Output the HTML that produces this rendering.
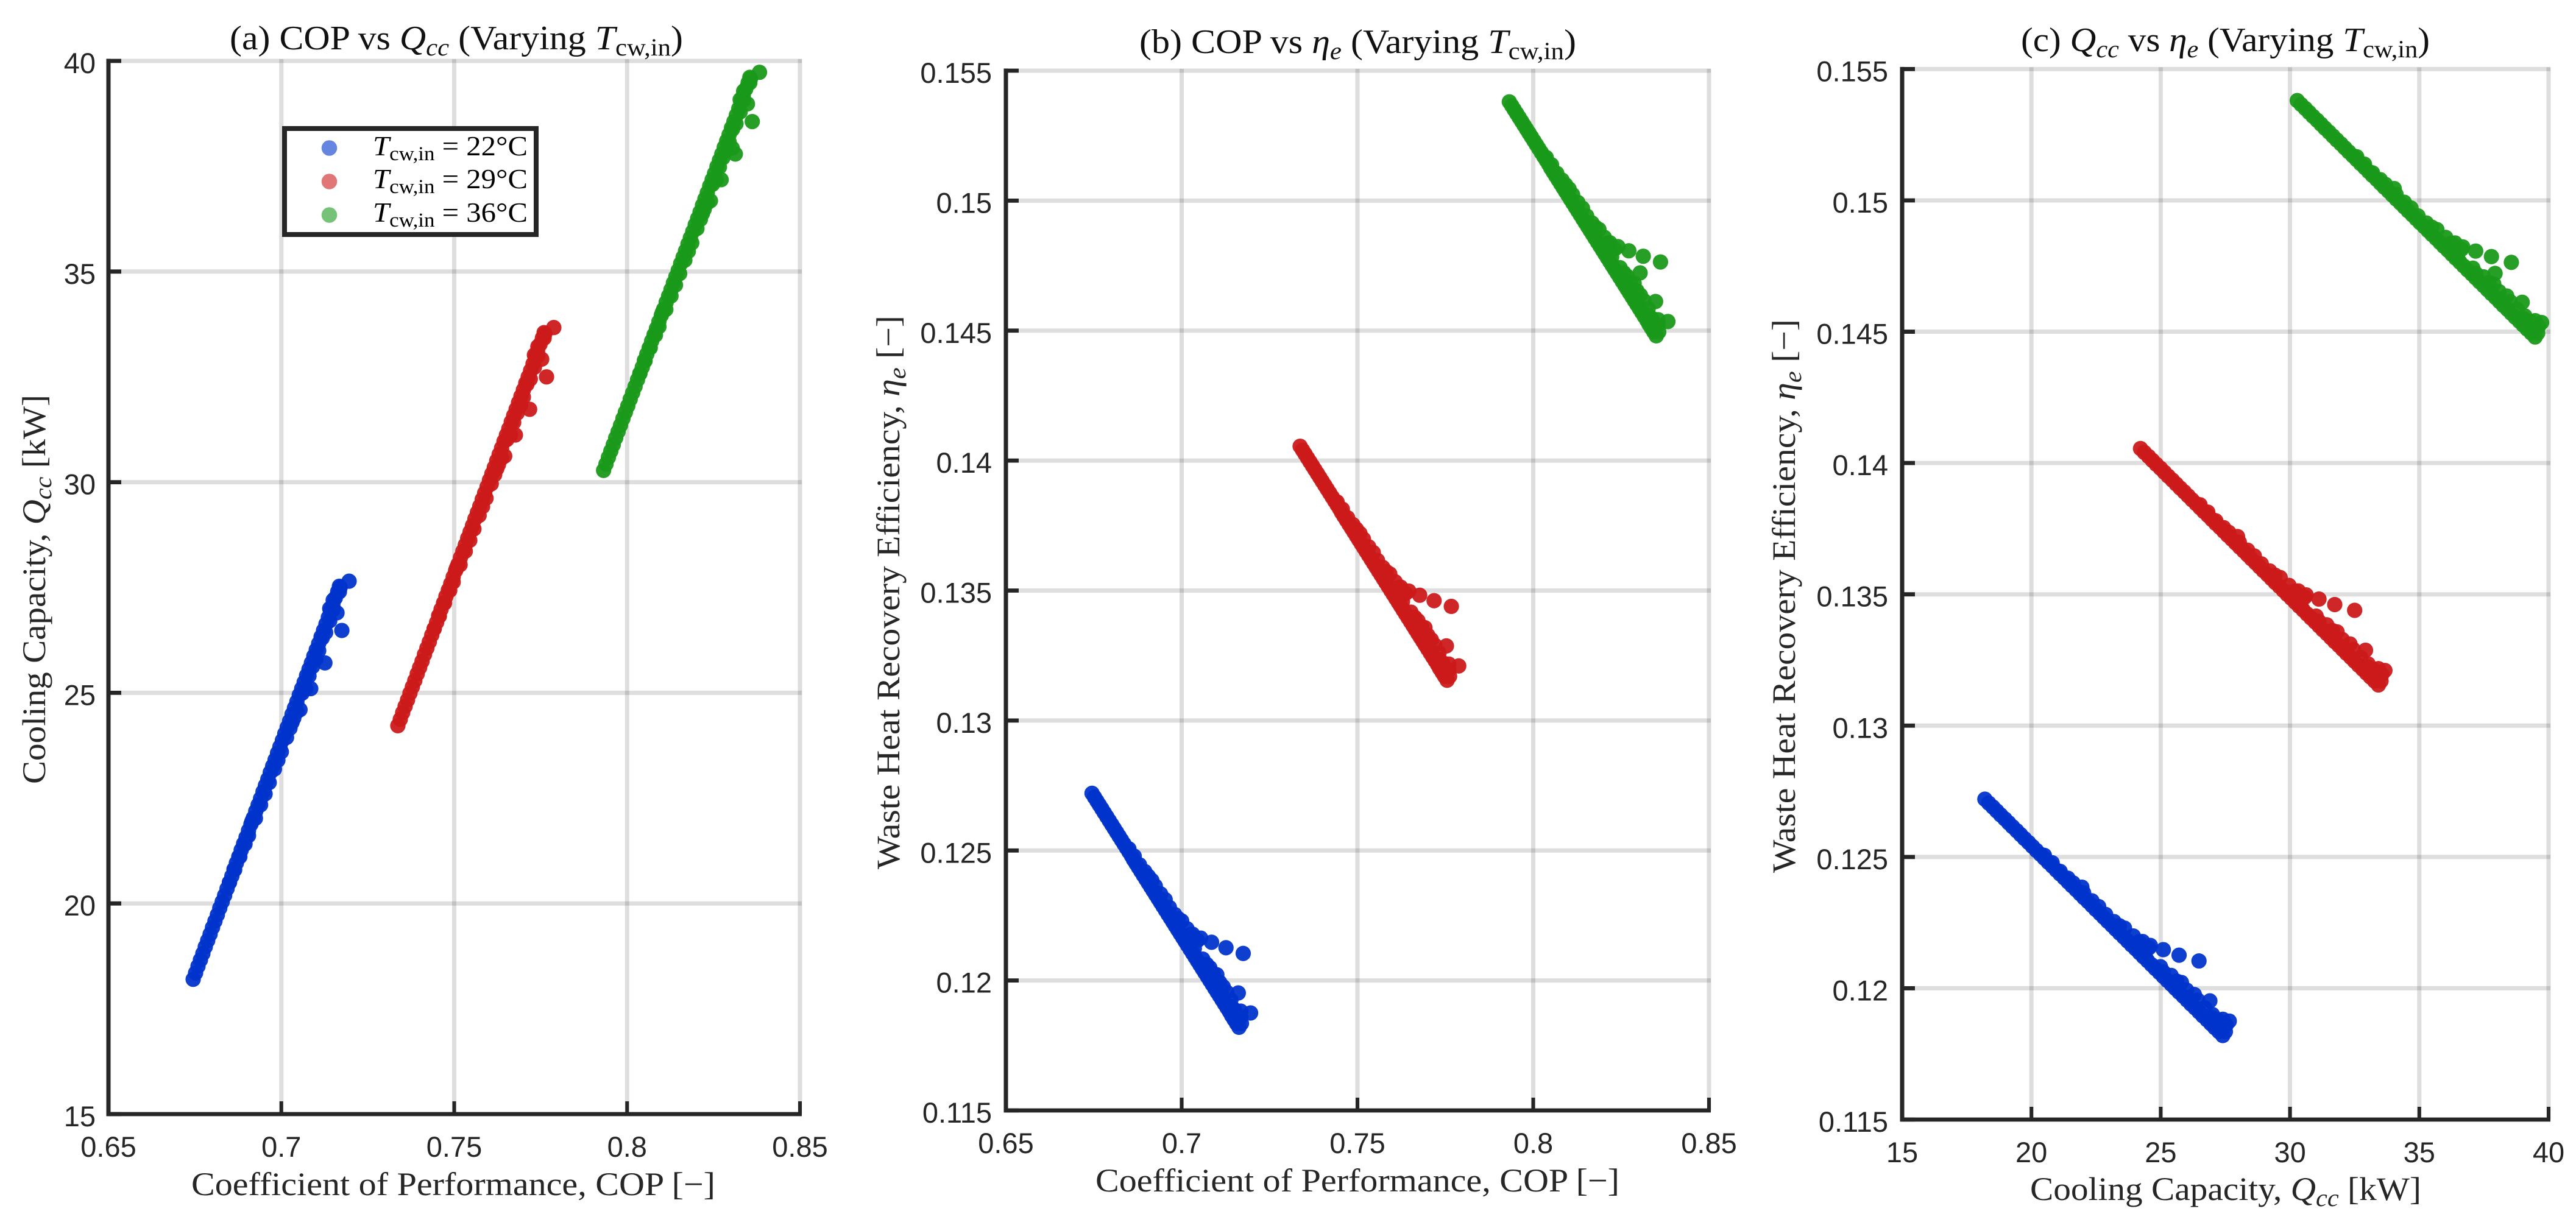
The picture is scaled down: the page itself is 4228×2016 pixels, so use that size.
<!DOCTYPE html>
<html lang="en">
<head>
<meta charset="utf-8">
<title>COP, cooling capacity and waste heat recovery efficiency</title>
<style>
html,body{margin:0;padding:0;background:#fff;}
svg{display:block;}
.serif{font-family:"Liberation Serif","DejaVu Serif",serif;}
.sans{font-family:"Liberation Sans","DejaVu Sans",sans-serif;font-size:47px;fill:#262626;}
</style>
</head>
<body>
<svg id="figure" xmlns="http://www.w3.org/2000/svg" width="4228" height="2016" viewBox="0 0 4228 2016">
<rect x="0" y="0" width="4228" height="2016" fill="#ffffff"/>
<g id="panels"></g>

<text class="serif" x="377" y="81" font-size="56" fill="#111" textLength="744" lengthAdjust="spacingAndGlyphs">(a) COP vs <tspan font-style="italic">Q</tspan><tspan font-style="italic" font-size="40" dy="10">cc</tspan><tspan dy="-10"> (Varying </tspan><tspan font-style="italic">T</tspan><tspan font-size="40" dy="10">cw,in</tspan><tspan dy="-10">)</tspan></text>
<text class="serif" x="1870" y="87" font-size="56" fill="#111" textLength="717" lengthAdjust="spacingAndGlyphs">(b) COP vs <tspan font-style="italic">η</tspan><tspan font-style="italic" font-size="40" dy="10">e</tspan><tspan dy="-10"> (Varying </tspan><tspan font-style="italic">T</tspan><tspan font-size="40" dy="10">cw,in</tspan><tspan dy="-10">)</tspan></text>
<text class="serif" x="3317" y="84" font-size="56" fill="#111" textLength="671" lengthAdjust="spacingAndGlyphs">(c) <tspan font-style="italic">Q</tspan><tspan font-style="italic" font-size="40" dy="10">cc</tspan><tspan dy="-10"> vs </tspan><tspan font-style="italic">η</tspan><tspan font-style="italic" font-size="40" dy="10">e</tspan><tspan dy="-10"> (Varying </tspan><tspan font-style="italic">T</tspan><tspan font-size="40" dy="10">cw,in</tspan><tspan dy="-10">)</tspan></text>

<text class="serif" x="314" y="1962" font-size="54" fill="#262626" textLength="860" lengthAdjust="spacingAndGlyphs">Coefficient of Performance, COP [−]</text>
<text class="serif" x="1798" y="1956" font-size="54" fill="#262626" textLength="860" lengthAdjust="spacingAndGlyphs">Coefficient of Performance, COP [−]</text>
<text class="serif" x="3332" y="1970" font-size="54" fill="#262626" textLength="642" lengthAdjust="spacingAndGlyphs">Cooling Capacity, <tspan font-style="italic">Q</tspan><tspan font-style="italic" font-size="40" dy="10">cc</tspan><tspan dy="-10"> [kW]</tspan></text>

<text class="serif" transform="translate(74,1287) rotate(-90)" font-size="54" fill="#262626" textLength="639" lengthAdjust="spacingAndGlyphs">Cooling Capacity, <tspan font-style="italic">Q</tspan><tspan font-style="italic" font-size="40" dy="10">cc</tspan><tspan dy="-10"> [kW]</tspan></text>
<text class="serif" transform="translate(1476,1427) rotate(-90)" font-size="54" fill="#262626" textLength="909" lengthAdjust="spacingAndGlyphs">Waste Heat Recovery Efficiency, <tspan font-style="italic">η</tspan><tspan font-style="italic" font-size="40" dy="10">e</tspan><tspan dy="-10"> [−]</tspan></text>
<text class="serif" transform="translate(2946,1433) rotate(-90)" font-size="54" fill="#262626" textLength="909" lengthAdjust="spacingAndGlyphs">Waste Heat Recovery Efficiency, <tspan font-style="italic">η</tspan><tspan font-style="italic" font-size="40" dy="10">e</tspan><tspan dy="-10"> [−]</tspan></text>

<g>
<rect x="467" y="211" width="413" height="174" fill="#ffffff" stroke="#262626" stroke-width="8"/>
<g>
<circle cx="540.5" cy="243" r="12.8" fill="#0033cc" fill-opacity="0.6"/>
<text class="serif" x="612" y="255" font-size="46" fill="#000" textLength="254" lengthAdjust="spacingAndGlyphs"><tspan font-style="italic">T</tspan><tspan font-size="33" dy="8">cw,in</tspan><tspan dy="-8"> = 22°C</tspan></text>
</g>
<g>
<circle cx="540.5" cy="298" r="12.8" fill="#cc1a1a" fill-opacity="0.6"/>
<text class="serif" x="612" y="309" font-size="46" fill="#000" textLength="254" lengthAdjust="spacingAndGlyphs"><tspan font-style="italic">T</tspan><tspan font-size="33" dy="8">cw,in</tspan><tspan dy="-8"> = 29°C</tspan></text>
</g>
<g>
<circle cx="540.5" cy="353" r="12.8" fill="#1a991a" fill-opacity="0.6"/>
<text class="serif" x="612" y="364" font-size="46" fill="#000" textLength="254" lengthAdjust="spacingAndGlyphs"><tspan font-style="italic">T</tspan><tspan font-size="33" dy="8">cw,in</tspan><tspan dy="-8"> = 36°C</tspan></text>
</g>
</g>
</svg>

<script>
const copTickLabels = ["0.65","0.7","0.75","0.8","0.85"];
const qccTickLabels = ["15","20","25","30","35","40"];
const etaTickLabels = ["0.115","0.12","0.125","0.13","0.135","0.14","0.145","0.15","0.155"];

const cop22 = [
.6745,.6752,.6759,.6766,.6773,.6780,.6787,.6794,.6801,.6808,
.6815,.6822,.6829,.6836,.6843,.6850,.6857,.6863,.6870,.6877,
.6884,.6891,.6898,.6905,.6912,.6919,.6926,.6933,.6940,.6947,
.6954,.6961,.6968,.6975,.6982,.6989,.6996,.7003,.7010,.7017,
.7024,.7031,.7038,.7045,.7052,.7059,.7066,.7073,.7080,.7087,
.7094,.7101,.7108,.7115,.7122,.7129,.7136,.7142,.7149,.7156,.7163,
.6850,.6865,.6880,.6895,.6905,.6925,.6940,.6965,.6980,.6990,.7015,.7025,.7045,.7060,.7080,.7090,.7108,.7128,.7140,.7150,
.6915,.6953,.7000,.7031,.7054,.7085,.7126,.7175,.7036,.7071,.7100,.7118,.7161,.7168,.7170,.7196,.7168,.7140,.7150];
const qcc22 = [
18.20,18.35,18.51,18.66,18.81,18.97,19.12,19.27,19.43,19.58,
19.73,19.89,20.04,20.19,20.35,20.50,20.65,20.81,20.96,21.11,
21.27,21.42,21.57,21.73,21.88,22.03,22.19,22.34,22.49,22.65,
22.80,22.95,23.11,23.26,23.41,23.57,23.72,23.87,24.03,24.18,
24.33,24.49,24.64,24.79,24.95,25.10,25.25,25.41,25.56,25.71,
25.87,26.02,26.17,26.33,26.48,26.63,26.79,26.94,27.09,27.25,27.40,
20.50,20.80,21.11,21.41,21.61,22.02,22.34,22.87,23.19,23.40,23.94,24.16,24.55,24.99,25.40,25.62,26.00,26.43,26.71,26.98,
21.95,22.60,23.60,24.30,24.60,25.10,25.71,26.48,24.40,25.10,25.80,26.30,26.90,27.40,27.50,27.65,27.53,27.00,27.20];
const eta22 = [
.12720,.12705,.12690,.12675,.12660,.12645,.12630,.12615,.12600,.12585,
.12570,.12555,.12540,.12525,.12510,.12495,.12480,.12465,.12450,.12435,
.12420,.12405,.12390,.12375,.12360,.12345,.12330,.12315,.12300,.12285,
.12270,.12255,.12240,.12225,.12210,.12195,.12180,.12165,.12150,.12135,
.12120,.12105,.12090,.12075,.12060,.12045,.12030,.12015,.12000,.11985,
.11970,.11955,.11940,.11925,.11910,.11895,.11880,.11865,.11850,.11835,.11820,
.12506,.12478,.12445,.12419,.12401,.12363,.12333,.12281,.12254,.12238,.12199,.12177,.12154,.12082,.12049,.12027,.11993,.11955,.11925,.11888,
.12385,.12311,.12229,.12178,.12163,.12147,.12126,.12104,.12123,.12062,.12022,.11976,.11952,.11882,.11835,.11875,.11860,.11900,.11880];

const cop29 = [
.7337,.7344,.7351,.7358,.7365,.7372,.7379,.7386,.7393,.7400,
.7407,.7414,.7421,.7428,.7435,.7442,.7449,.7455,.7462,.7469,
.7476,.7483,.7490,.7497,.7504,.7511,.7518,.7525,.7532,.7539,
.7546,.7553,.7560,.7567,.7574,.7581,.7588,.7595,.7602,.7609,
.7616,.7623,.7630,.7637,.7644,.7651,.7658,.7665,.7672,.7679,
.7686,.7693,.7700,.7707,.7714,.7721,.7728,.7734,.7741,.7748,.7755,
.7442,.7457,.7472,.7487,.7497,.7517,.7532,.7557,.7572,.7582,.7607,.7617,.7637,.7652,.7672,.7682,.7700,.7720,.7732,.7742,
.7507,.7545,.7592,.7623,.7646,.7677,.7718,.7767,.7628,.7663,.7692,.7710,.7753,.7760,.7762,.7788,.7760,.7732,.7742];
const qcc29 = [
24.22,24.37,24.53,24.68,24.83,24.99,25.14,25.29,25.45,25.60,
25.75,25.91,26.06,26.21,26.37,26.52,26.67,26.83,26.98,27.13,
27.29,27.44,27.59,27.75,27.90,28.05,28.21,28.36,28.51,28.67,
28.82,28.97,29.13,29.28,29.43,29.59,29.74,29.89,30.05,30.20,
30.35,30.51,30.66,30.81,30.97,31.12,31.27,31.43,31.58,31.73,
31.89,32.04,32.19,32.35,32.50,32.65,32.81,32.96,33.11,33.27,33.42,
26.52,26.82,27.13,27.43,27.63,28.04,28.36,28.89,29.21,29.42,29.96,30.18,30.57,31.01,31.42,31.64,32.02,32.45,32.73,33.00,
27.97,28.62,29.62,30.32,30.62,31.12,31.73,32.50,30.42,31.12,31.82,32.32,32.92,33.42,33.52,33.67,33.55,33.02,33.22];
const eta29 = [
.14055,.14040,.14025,.14010,.13995,.13980,.13965,.13950,.13935,.13920,
.13905,.13890,.13875,.13860,.13845,.13830,.13815,.13800,.13785,.13770,
.13755,.13740,.13725,.13710,.13695,.13680,.13665,.13650,.13635,.13620,
.13605,.13590,.13575,.13560,.13545,.13530,.13515,.13500,.13485,.13470,
.13455,.13440,.13425,.13410,.13395,.13380,.13365,.13350,.13335,.13320,
.13305,.13290,.13275,.13260,.13245,.13230,.13215,.13200,.13185,.13170,.13155,
.13841,.13813,.13780,.13754,.13736,.13698,.13668,.13616,.13589,.13573,.13534,.13512,.13489,.13417,.13384,.13362,.13328,.13290,.13260,.13223,
.13720,.13646,.13564,.13513,.13498,.13482,.13461,.13439,.13458,.13397,.13357,.13311,.13287,.13217,.13170,.13210,.13195,.13235,.13215];

const cop36 = [
.7932,.7939,.7946,.7953,.7960,.7967,.7974,.7981,.7988,.7995,
.8002,.8009,.8016,.8023,.8030,.8037,.8044,.8050,.8057,.8064,
.8071,.8078,.8085,.8092,.8099,.8106,.8113,.8120,.8127,.8134,
.8141,.8148,.8155,.8162,.8169,.8176,.8183,.8190,.8197,.8204,
.8211,.8218,.8225,.8232,.8239,.8246,.8253,.8260,.8267,.8274,
.8281,.8288,.8295,.8302,.8309,.8316,.8323,.8329,.8336,.8343,.8350,
.8037,.8052,.8067,.8082,.8092,.8112,.8127,.8152,.8167,.8177,.8202,.8212,.8232,.8247,.8267,.8277,.8295,.8315,.8327,.8337,
.8102,.8140,.8187,.8218,.8241,.8272,.8313,.8362,.8223,.8258,.8287,.8305,.8348,.8355,.8357,.8383,.8355,.8327,.8337,.8304];
const qcc36 = [
30.28,30.43,30.59,30.74,30.89,31.05,31.20,31.35,31.51,31.66,
31.81,31.97,32.12,32.27,32.43,32.58,32.73,32.89,33.04,33.19,
33.35,33.50,33.65,33.81,33.96,34.11,34.27,34.42,34.57,34.73,
34.88,35.03,35.19,35.34,35.49,35.65,35.80,35.95,36.11,36.26,
36.41,36.57,36.72,36.87,37.03,37.18,37.33,37.49,37.64,37.79,
37.95,38.10,38.25,38.41,38.56,38.71,38.87,39.02,39.17,39.33,39.48,
32.58,32.88,33.19,33.49,33.69,34.10,34.42,34.95,35.27,35.48,36.02,36.24,36.63,37.07,37.48,37.70,38.08,38.51,38.79,39.06,
34.03,34.68,35.68,36.38,36.68,37.18,37.79,38.56,36.48,37.18,37.88,38.38,38.98,39.48,39.58,39.73,39.61,39.08,39.28,37.93];
const eta36 = [
.15380,.15365,.15350,.15335,.15320,.15305,.15290,.15275,.15260,.15245,
.15230,.15215,.15200,.15185,.15170,.15155,.15140,.15125,.15110,.15095,
.15080,.15065,.15050,.15035,.15020,.15005,.14990,.14975,.14960,.14945,
.14930,.14915,.14900,.14885,.14870,.14855,.14840,.14825,.14810,.14795,
.14780,.14765,.14750,.14735,.14720,.14705,.14690,.14675,.14660,.14645,
.14630,.14615,.14600,.14585,.14570,.14555,.14540,.14525,.14510,.14495,.14480,
.15166,.15138,.15105,.15079,.15061,.15023,.14993,.14941,.14914,.14898,.14859,.14837,.14814,.14742,.14709,.14687,.14653,.14615,.14585,.14548,
.15045,.14971,.14889,.14838,.14823,.14807,.14786,.14764,.14783,.14722,.14682,.14636,.14612,.14542,.14495,.14535,.14520,.14560,.14540,.14722];

const SVGNS = "http://www.w3.org/2000/svg";
const root = document.getElementById("panels");

function mk(tag, attrs, parent, text) {
  const el = document.createElementNS(SVGNS, tag);
  for (const k in attrs) el.setAttribute(k, attrs[k]);
  if (text !== undefined) el.textContent = text;
  parent.appendChild(el);
  return el;
}

function linearScale(d0, d1, r0, r1) {
  return function (v) { return r0 + (v - d0) * (r1 - r0) / (d1 - d0); };
}

function drawPanel(cfg) {
  const xs = cfg.xLabels.map(parseFloat);
  const ys = cfg.yLabels.map(parseFloat);
  const xScale = linearScale(xs[0], xs[xs.length - 1], cfg.left, cfg.right);
  const yScale = linearScale(ys[0], ys[ys.length - 1], cfg.bottom, cfg.top);

  const g = mk("g", {}, root);
  
  

  const gridGroup = mk("g", {}, g);
  
  
  ys.forEach(function (v) {
    const line = mk("line", {x1: cfg.left, x2: cfg.right + 3, y1: yScale(v), y2: yScale(v), stroke: "#000", "stroke-opacity": 0.13, "stroke-width": 7}, gridGroup);
    
    
  });
  xs.forEach(function (v) {
    const line = mk("line", {x1: xScale(v), x2: xScale(v), y1: cfg.top - 3, y2: cfg.bottom, stroke: "#000", "stroke-opacity": 0.13, "stroke-width": 7}, gridGroup);
    
    
  });

  cfg.series.forEach(function (s) {
    const sg = mk("g", {fill: s.color, "fill-opacity": 0.94}, g);
    
    
    s.x.forEach(function (xv, i) {
      const c = mk("circle", {cx: xScale(xv), cy: yScale(s.y[i]), r: 12.6}, sg);
      
      
    });
  });

  const axisColor = "#262626";
  const yAxis = mk("line", {x1: cfg.left, x2: cfg.left, y1: cfg.top - 3.5, y2: cfg.bottom + 3.3, stroke: axisColor, "stroke-width": 7}, g);
  
  
  const xAxis = mk("line", {x1: cfg.left - 3.5, x2: cfg.right + 3, y1: cfg.bottom, y2: cfg.bottom, stroke: axisColor, "stroke-width": 6.8}, g);
  
  

  ys.forEach(function (v, i) {
    const tick = mk("line", {x1: cfg.left, x2: cfg.left + 21, y1: yScale(v), y2: yScale(v), stroke: axisColor, "stroke-width": 6.8}, g);
    
    
    const label = mk("text", {x: cfg.yLabelRight, y: yScale(v) + 20, "text-anchor": "end", "class": "sans"}, g, cfg.yLabels[i]);
    
    
  });
  xs.forEach(function (v, i) {
    const tick = mk("line", {x1: xScale(v), x2: xScale(v), y1: cfg.bottom, y2: cfg.bottom - 21, stroke: axisColor, "stroke-width": 6}, g);
    
    
    const label = mk("text", {x: xScale(v), y: cfg.bottom + 70, "text-anchor": "middle", "class": "sans"}, g, cfg.xLabels[i]);
    
    
  });
}

const BLUE = "#0033cc", RED = "#cc1a1a", GREEN = "#1a991a";

drawPanel({
  id: "a", left: 178, right: 1313, top: 100, bottom: 1829, yLabelRight: 157,
  xLabels: copTickLabels, yLabels: qccTickLabels,
  series: [
    {name: "22", color: BLUE, x: cop22, y: qcc22},
    {name: "29", color: RED, x: cop29, y: qcc29},
    {name: "36", color: GREEN, x: cop36, y: qcc36}
  ]
});
drawPanel({
  id: "b", left: 1651, right: 2805, top: 116, bottom: 1823, yLabelRight: 1628,
  xLabels: copTickLabels, yLabels: etaTickLabels,
  series: [
    {name: "22", color: BLUE, x: cop22, y: eta22},
    {name: "29", color: RED, x: cop29, y: eta29},
    {name: "36", color: GREEN, x: cop36, y: eta36}
  ]
});
drawPanel({
  id: "c", left: 3122, right: 4183, top: 113.4, bottom: 1838, yLabelRight: 3099,
  xLabels: qccTickLabels, yLabels: etaTickLabels,
  series: [
    {name: "22", color: BLUE, x: qcc22, y: eta22},
    {name: "29", color: RED, x: qcc29, y: eta29},
    {name: "36", color: GREEN, x: qcc36, y: eta36}
  ]
});
</script>
</body>
</html>
